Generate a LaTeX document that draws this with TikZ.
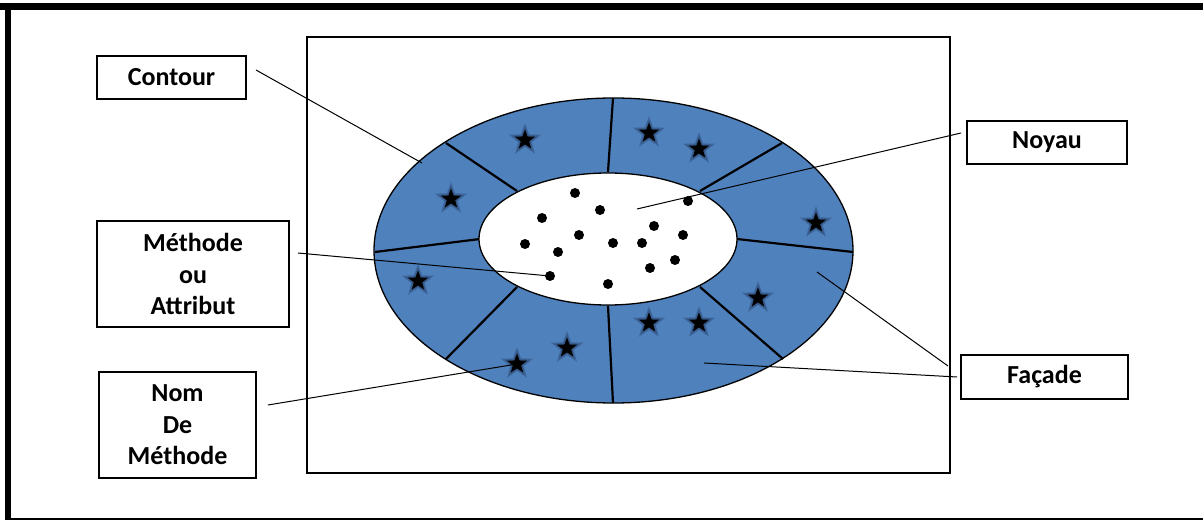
\documentclass[tikz,border=0pt]{standalone}
\usepackage{fontspec}
\setmainfont{Carlito}
\usetikzlibrary{shapes.geometric}
\definecolor{ringblue}{RGB}{79,129,189}
\definecolor{glowblue}{RGB}{45,75,120}
\tikzset{
  label box/.style={draw=black, line width=1.3pt, fill=white, inner sep=0pt, align=center,
    font=\fontsize{26}{31.5}\selectfont\bfseries},
  divider/.style={line width=2.2pt, black},
  connector/.style={line width=1pt, black},
  dot/.style={circle, fill=black, inner sep=0pt, minimum size=10pt},
  starglow/.style={star, star points=5, star point ratio=2.4, fill=glowblue, fill opacity=0.45, inner sep=0pt, minimum size=34pt},
  starcore/.style={star, star points=5, star point ratio=2.4, fill=black, inner sep=0pt, minimum size=21pt}
}
\newcommand{\mystar}[3]{%
  \node[starglow] at (#2) {};
  \node[starglow, minimum size=28pt, fill opacity=0.55] at (#2) {};
  \node[starcore] (#1) at (#2) {};
}
\begin{document}
\begin{tikzpicture}[x=1pt,y=-1pt]
\useasboundingbox (0,0) rectangle (1203,521);
% outer frame
\draw[line width=7pt] (0,6.5) -- (1203,6.5);
\draw[line width=6pt] (8,3) -- (8,520);
\draw[line width=2.5pt] (5,519) -- (1203,519);
% inner rectangle
\draw[line width=1.5pt] (307,37) rectangle (950,473);
% ring
\fill[ringblue] (613.5,250.5) ellipse [x radius=239.5pt, y radius=152.5pt];
\draw[line width=1.3pt] (613.5,250.5) ellipse [x radius=239.5pt, y radius=152.5pt];
% dividers
\draw[divider] (446,143) -- (517,191);
\draw[divider] (613,98) -- (608,172);
\draw[divider] (782,143) -- (700,191);
\draw[divider] (737,239) -- (853,252);
\draw[divider] (700,287) -- (783,359);
\draw[divider] (608,306) -- (613,403);
\draw[divider] (517,287) -- (446,359);
\draw[divider] (480,239) -- (375,252);
% inner ellipse
\fill[white] (608,239) ellipse [x radius=129pt, y radius=66pt];
\draw[line width=1.3pt] (608,239) ellipse [x radius=129pt, y radius=66pt];
% stars
\mystar{s1}{525,140}{}
\mystar{s2}{649,133}{}
\mystar{s3}{699,149}{}
\mystar{s4}{451,199}{}
\mystar{s5}{816,223}{}
\mystar{s6}{418,281}{}
\mystar{s7}{758,298}{}
\mystar{s8}{649,323}{}
\mystar{s9}{699,323}{}
\mystar{s10}{567,348}{}
\mystar{s11}{517,364}{}
% dots
\node[dot] (d1) at (575,193) {};
\node[dot] (d2) at (600,210) {};
\node[dot] (d3) at (542,218) {};
\node[dot] (d4) at (688,201) {};
\node[dot] (d5) at (654,226) {};
\node[dot] (d6) at (683,235) {};
\node[dot] (d7) at (579,235) {};
\node[dot] (d8) at (525,244) {};
\node[dot] (d9) at (613,243) {};
\node[dot] (d10) at (642,243) {};
\node[dot] (d11) at (558,252) {};
\node[dot] (d12) at (675,260) {};
\node[dot] (d13) at (650,268) {};
\node[dot] (d14) at (550,276) {};
\node[dot] (d15) at (608,284) {};
% label boxes
\node[label box, minimum width=149pt, minimum height=43pt] (contour) at (171.5,77.5) {Contour};
\node[label box, minimum width=192pt, minimum height=106pt] (methode) at (193,274) {Méthode\\ou\\Attribut};
\node[label box, minimum width=157pt, minimum height=106pt] (nom) at (177.5,425) {Nom\\De\\Méthode};
\node[label box, minimum width=160pt, minimum height=43pt] (noyau) at (1047,142.5) {Noyau};
\node[label box, minimum width=167pt, minimum height=44pt] (facade) at (1044.5,377) {Façade};
% connector ends
\coordinate (cA) at (256,70);
\coordinate (cB) at (422,163);
\coordinate (nA) at (961,133);
\coordinate (nB) at (637,209);
\coordinate (mA) at (298,253);
\coordinate (oA) at (268,405);
\coordinate (fA) at (948,366);
\coordinate (fB) at (957,377);
\coordinate (fC) at (817,272);
\coordinate (fD) at (704,363);
% connectors
\draw[connector] (cA) -- (cB);
\draw[connector] (nA) -- (nB);
\draw[connector] (mA) -- (d14.center);
\draw[connector] (oA) -- (s11.center);
\draw[connector] (fA) -- (fC);
\draw[connector] (fB) -- (fD);
\end{tikzpicture}
\end{document}
